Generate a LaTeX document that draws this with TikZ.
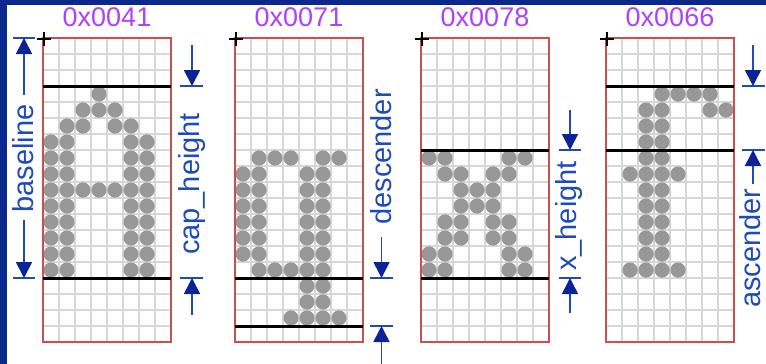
\documentclass[tikz,border=0pt]{standalone}
\usepackage{fontspec}
\setmainfont{Liberation Sans}
\usetikzlibrary{arrows.meta}
\definecolor{framec}{RGB}{12,40,140}
\definecolor{hexc}{RGB}{176,64,255}
\definecolor{dimc}{RGB}{30,75,185}
\definecolor{tipc}{RGB}{10,35,150}
\definecolor{gridc}{RGB}{214,214,214}
\definecolor{borderc}{RGB}{200,80,80}
\definecolor{dotc}{RGB}{152,152,152}
\tikzset{
  gridline/.style={gridc, line width=1.4pt},
  gridborder/.style={borderc, line width=1.6pt},
  metric/.style={black, line width=3pt},
  dotfill/.style={fill=dotc},
  hexlabel/.style={text=hexc, font=\fontsize{27}{27}\selectfont, anchor=base, inner sep=0pt},
  dimlabel/.style={text=dimc, font=\fontsize{29}{29}\selectfont, rotate=90, anchor=base, inner sep=0pt},
  dimline/.style={dimc, line width=1.6pt},
  dimarrow/.style={dimline, -{Triangle[length=16pt,width=16pt,color=tipc]}},
  origin/.style={black, line width=2.5pt}
}
% #1 left x, #2 dots (row/col), #3 metric rows, #4 label, #5 node name
\newcommand\glyphbox[5]{%
  \begin{scope}[shift={(#1,38)}]
    \foreach \i in {1,...,7} \draw[gridline] (\i*16,0) -- (\i*16,304);
    \foreach \j in {1,...,18} \draw[gridline] (0,\j*16) -- (128,\j*16);
    \foreach \r/\c in {#2} \fill[dotfill] (\c*16+8,\r*16+8) circle (7.6pt);
    \draw[gridborder] (0,0) rectangle (128,304);
    \foreach \m in {#3} \draw[metric] (0,\m*16) -- (128,\m*16);
    \draw[origin] (-6,1) -- (8,1) (1,-6) -- (1,8);
    \node[hexlabel] (#5) at (64,-11) {#4};
  \end{scope}}
\begin{document}
\begin{tikzpicture}[x=1pt,y=-1pt]
\useasboundingbox (0,0) rectangle (766,364);
\fill[white] (0,0) rectangle (766,364);
\fill[framec] (0,0) rectangle (766,5);
\fill[framec] (0,0) rectangle (7,364);

% A
\glyphbox{43}{3/3, 4/2,4/3,4/4, 5/1,5/2,5/4,5/5,
  6/0,6/1,6/5,6/6, 7/0,7/1,7/5,7/6, 8/0,8/1,8/5,8/6,
  9/0,9/1,9/2,9/3,9/4,9/5,9/6,
  10/0,10/1,10/5,10/6, 11/0,11/1,11/5,11/6, 12/0,12/1,12/5,12/6,
  13/0,13/1,13/5,13/6, 14/0,14/1,14/5,14/6}{3,15}{0x0041}{hexA}
% q
\glyphbox{235}{7/1,7/2,7/3,7/5,7/6,
  8/0,8/1,8/4,8/5, 9/0,9/1,9/4,9/5, 10/0,10/1,10/4,10/5,
  11/0,11/1,11/4,11/5, 12/0,12/1,12/4,12/5, 13/0,13/1,13/4,13/5,
  14/1,14/2,14/3,14/4,14/5, 15/4,15/5, 16/4,16/5,
  17/3,17/4,17/5,17/6}{15,18}{0x0071}{hexq}
% x
\glyphbox{421}{7/0,7/1,7/5,7/6, 8/1,8/2,8/4,8/5, 9/2,9/3,9/4, 10/2,10/3,10/4,
  11/1,11/2,11/4,11/5, 12/1,12/2,12/4,12/5, 13/0,13/1,13/5,13/6,
  14/0,14/1,14/5,14/6}{7,15}{0x0078}{hexx}
% f
\glyphbox{606}{3/3,3/4,3/5,3/6, 4/2,4/3,4/6,4/7, 5/2,5/3, 6/2,6/3, 7/2,7/3,
  8/1,8/2,8/3,8/4, 9/2,9/3, 10/2,10/3, 11/2,11/3, 12/2,12/3, 13/2,13/3,
  14/1,14/2,14/3,14/4}{3,7}{0x0066}{hexf}

% baseline
\draw[dimline] (13,38) -- (35,38) (13,278) -- (35,278);
\draw[dimarrow] (24,95) -- (24,38);
\draw[dimarrow] (24,220) -- (24,278);
\node[dimlabel] (lblbase) at (33.5,158.5) {baseline};

% cap_height
\draw[dimline] (180,86) -- (203,86) (180,278) -- (203,278);
\draw[dimarrow] (192,45) -- (192,86);
\draw[dimarrow] (192,315) -- (192,278);
\node[dimlabel] (lblcap) at (199.5,184) {cap\_height};

% descender
\draw[dimline] (370,278) -- (393,278) (370,326) -- (393,326);
\draw[dimarrow] (381.5,237) -- (381.5,278);
\draw[dimarrow] (381.5,366) -- (381.5,326);
\node[dimlabel] (lbldesc) at (391,157) {descender};

% x_height
\draw[dimline] (559,150) -- (581,150) (559,278) -- (581,278);
\draw[dimarrow] (570,110) -- (570,150);
\draw[dimarrow] (570,313) -- (570,278);
\node[dimlabel] (lblx) at (576.5,216) {x\_height};

% ascender
\draw[dimline] (742,86) -- (765,86) (742,150) -- (765,150);
\draw[dimarrow] (753,45) -- (753,86);
\draw[dimarrow] (753,184) -- (753,150);
\node[dimlabel] (lblasc) at (760,248) {ascender};
\end{tikzpicture}
\end{document}
